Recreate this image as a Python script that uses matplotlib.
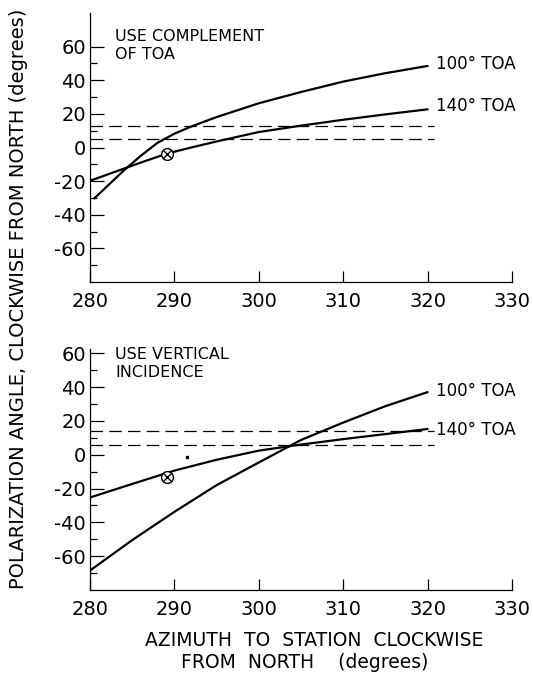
import matplotlib
matplotlib.use("Agg")
import matplotlib.pyplot as plt
from matplotlib.ticker import FixedLocator

plt.rcParams['font.family'] = ['DejaVu Sans']
plt.rcParams['axes.unicode_minus'] = False

# ---------------- data ----------------
# Top panel: "USE COMPLEMENT OF TOA"
top_100_az = [280.5, 282, 284, 286, 288, 290, 292, 295, 300, 305, 310, 315, 320]
top_100_pol = [-30.3, -23.2, -13.7, -5.0, 2.8, 8.2, 12.5, 18.1, 26.3, 33.0, 39.2, 44.2, 48.5]
top_140_az = [280, 282, 284, 286, 289, 290, 292, 295, 300, 305, 310, 315, 320]
top_140_pol = [-19.8, -16.2, -12.6, -9.0, -3.8, -2.5, 0.0, 3.6, 9.2, 13.0, 16.5, 19.7, 22.7]
top_dashed = [13, 5]
top_obs_az = [289.1]
top_obs_pol = [-4.0]

# Bottom panel: "USE VERTICAL INCIDENCE"
bot_100_az = [280, 285, 290, 295, 300, 305, 310, 315, 320]
bot_100_pol = [-68.5, -50.5, -33.8, -18.0, -4.6, 8.7, 19.0, 28.7, 37.0]
bot_140_az = [280, 285, 290, 295, 300, 305, 310, 315, 320]
bot_140_pol = [-25.3, -17.3, -9.4, -3.0, 2.4, 6.0, 9.2, 12.2, 15.2]
bot_dashed = [14, 6]
bot_obs_az = [289.1]
bot_obs_pol = [-13.4]
bot_speck_az = [291.5]
bot_speck_pol = [-1.2]

x_ticks = [280, 290, 300, 310, 320, 330]
y_major = [-60, -40, -20, 0, 20, 40, 60]
y_minor = [-70, -50, -30, -10, 10, 30, 50]

panel_notes = ["USE COMPLEMENT\nOF TOA", "USE VERTICAL\nINCIDENCE"]
curve_labels = ["100° TOA", "140° TOA"]

# ---------------- figure ----------------
W, H = 533, 674
fig = plt.figure(figsize=(W / 100, H / 100), dpi=100)

left = 90 / W
width = (512 - 90) / W
ax_top = fig.add_axes([left, 1 - 282 / H, width, (282 - 13) / H])
ax_bot = fig.add_axes([left, 1 - 590 / H, width, (590 - 349) / H])

def style(ax, ylim):
    ax.set_xlim(280, 330)
    ax.set_ylim(*ylim)
    for s in ['top', 'right']:
        ax.spines[s].set_visible(False)
    for s in ['left', 'bottom']:
        ax.spines[s].set_linewidth(0.9)
    ax.xaxis.set_major_locator(FixedLocator(x_ticks))
    ax.yaxis.set_major_locator(FixedLocator(y_major))
    ax.yaxis.set_minor_locator(FixedLocator(y_minor))
    ax.tick_params(axis='x', which='major', direction='in', length=8, width=0.9,
                   pad=7.5, labelsize=14)
    ax.tick_params(axis='y', which='major', direction='in', length=10, width=0.9,
                   pad=3, labelsize=14)
    ax.tick_params(axis='y', which='minor', direction='in', length=5, width=0.9)
    ax.set_xticklabels([str(t) for t in x_ticks])
    ax.set_yticklabels([str(t) for t in y_major])

def draw_obs(ax, xs, ys):
    ax.plot(xs, ys, linestyle='none', marker='o', markersize=8.5,
            markerfacecolor='white', markeredgecolor='black', markeredgewidth=1.0, zorder=5)
    ax.plot(xs, ys, linestyle='none', marker='x', markersize=6,
            markeredgecolor='black', markeredgewidth=1.0, zorder=6)

# top panel
style(ax_top, (-80, 80))
for yv in top_dashed:
    ax_top.plot([280, 320.7], [yv, yv], color='black', lw=0.9, dashes=(10, 5))
ax_top.plot(top_100_az, top_100_pol, color='black', lw=1.6, solid_capstyle='round',
            solid_joinstyle='round')
ax_top.plot(top_140_az, top_140_pol, color='black', lw=1.6, solid_capstyle='round',
            solid_joinstyle='round')
draw_obs(ax_top, top_obs_az, top_obs_pol)
ax_top.text(283.0, 70.5, panel_notes[0], fontsize=11.5, va='top', ha='left', linespacing=1.25)
ax_top.text(321.0, 49.5, curve_labels[0], fontsize=12, va='center', ha='left')
ax_top.text(321.0, 24.7, curve_labels[1], fontsize=12, va='center', ha='left')

# bottom panel
style(ax_bot, (-80, 62.5))
for yv in bot_dashed:
    ax_bot.plot([280, 320.7], [yv, yv], color='black', lw=0.9, dashes=(10, 5))
ax_bot.plot(bot_100_az, bot_100_pol, color='black', lw=1.6, solid_capstyle='round',
            solid_joinstyle='round')
ax_bot.plot(bot_140_az, bot_140_pol, color='black', lw=1.6, solid_capstyle='round',
            solid_joinstyle='round')
draw_obs(ax_bot, bot_obs_az, bot_obs_pol)
ax_bot.plot(bot_speck_az, bot_speck_pol, linestyle='none', marker='s', markersize=1.5,
            color='black')
ax_bot.text(283.0, 63.5, panel_notes[1], fontsize=11.5, va='top', ha='left', linespacing=1.25)
ax_bot.text(321.0, 37.5, curve_labels[0], fontsize=12, va='center', ha='left')
ax_bot.text(321.0, 14.5, curve_labels[1], fontsize=12, va='center', ha='left')

# axis titles
fig.text(19 / W, 1 - 299 / H, "POLARIZATION ANGLE, CLOCKWISE FROM NORTH (degrees)",
         rotation=90, ha='center', va='center', fontsize=14)
fig.text(314 / W, 1 - 640 / H, "AZIMUTH  TO  STATION  CLOCKWISE",
         ha='center', va='center', fontsize=13.5)
fig.text(305 / W, 1 - 662 / H, "FROM  NORTH    (degrees)",
         ha='center', va='center', fontsize=13.5)

fig.savefig("out.png", dpi=100)
